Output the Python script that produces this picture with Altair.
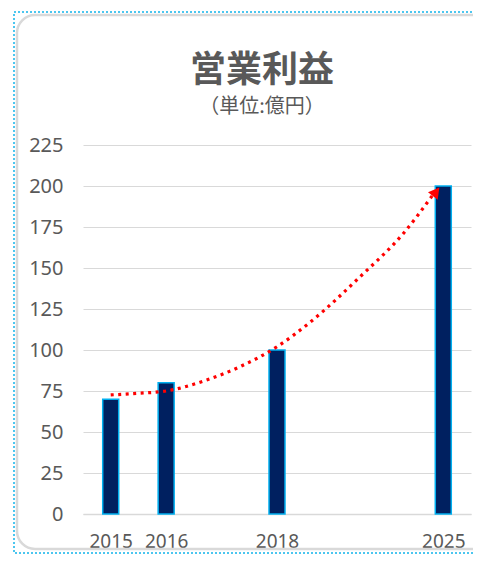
import altair as alt
import pandas as pd

# ---- data ----
slot_labels = ["2015", "2016", "", "2018", "", "", "2025"]   # category slots on the axis
years = ["2015", "2016", "2018", "2025"]
profits = [70, 80, 100, 200]

# red dotted trend curve (x in category-slot units)
trend_x = [0.0, 0.5, 1.0, 1.73, 2.33, 3.0, 3.6, 4.5, 5.27, 5.81]
trend_y = [72.6, 73.6, 75.0, 81.7, 89.8, 102.0, 117.0, 144.7, 170.7, 194.5]
arrow_x = [5.87]
arrow_y = [196.5]

y_ticks = [0, 25, 50, 75, 100, 125, 150, 175, 200, 225]

title_text = "営業利益"
subtitle_text = "（単位:億円）"

# ---- tables ----
slot_index = [slot_labels.index(y) for y in years]
bars_df = pd.DataFrame({"slot": slot_index, "year": years, "profit": profits})
trend_df = pd.DataFrame({"x": trend_x, "y": trend_y})
arrow_df = pd.DataFrame({"x": arrow_x, "y": arrow_y})

label_expr = "[" + ",".join("'" + s + "'" for s in slot_labels) + "][datum.value]"

xscale = alt.Scale(domain=[-0.5, len(slot_labels) - 0.5], nice=False, zero=False, padding=0)
yscale = alt.Scale(domain=[0, 225], nice=False)

x_axis = alt.Axis(
    values=slot_index, labelExpr=label_expr, title=None, grid=False, ticks=False,
    domain=True, domainColor="#d9d9d9", domainWidth=1.5,
    labelFontSize=19, labelColor="#595959", labelFont="Noto Sans",
    labelPadding=18, labelAngle=0,
)
y_axis = alt.Axis(
    values=y_ticks, title=None, grid=True, gridColor="#d9d9d9", gridWidth=1,
    ticks=False, domain=False, labelFontSize=20, labelColor="#595959",
    labelFont="Noto Sans", labelPadding=20,
)

# decorative frame (chart border) drawn in pixel space
outer = alt.Chart(pd.DataFrame({"k": [0]})).mark_rect(
    fill=None, stroke="#4cc6ef", strokeWidth=2, strokeDash=[2, 2]
).encode(x=alt.value(-69), x2=alt.value(420), y=alt.value(-133), y2=alt.value(408))

inner = alt.Chart(pd.DataFrame({"k": [0]})).mark_rect(
    fill=None, stroke="#d9d9d9", strokeWidth=2.5, cornerRadius=18
).encode(x=alt.value(-66), x2=alt.value(430), y=alt.value(-130), y2=alt.value(404))

bars = alt.Chart(bars_df).mark_bar(
    size=16, color="#002060", stroke="#00B0F0", strokeWidth=1.5, orient="vertical"
).encode(
    x=alt.X("slot:Q", scale=xscale, axis=x_axis),
    y=alt.Y("profit:Q", scale=yscale, axis=y_axis),
)

trend = alt.Chart(trend_df).mark_line(
    color="#FF0000", strokeWidth=3.2, strokeDash=[3, 4.5], interpolate="monotone"
).encode(x=alt.X("x:Q", scale=xscale), y=alt.Y("y:Q", scale=yscale))

arrow = alt.Chart(arrow_df).mark_point(
    shape="triangle-up", filled=True, color="#FF0000", size=150, angle=38, opacity=1
).encode(x=alt.X("x:Q", scale=xscale), y=alt.Y("y:Q", scale=yscale))

chart = alt.layer(outer, inner, bars, trend, arrow).properties(
    width=388, height=369,
    background="white",
    autosize=alt.AutoSizeParams(type="none"),
    padding={"left": 75, "top": 137, "right": 2, "bottom": 40},
    title=alt.TitleParams(
        text=title_text, subtitle=subtitle_text, anchor="middle", dx=-15,
        font="Noto Sans CJK JP", fontSize=36, fontWeight="bold", color="#595959",
        subtitleFont="Noto Sans CJK JP", subtitleFontSize=20, subtitleColor="#595959",
        subtitlePadding=7, offset=-107,
    ),
).configure_view(stroke=None)

chart.save("out.html", embed_options={"renderer": "svg", "actions": False})
